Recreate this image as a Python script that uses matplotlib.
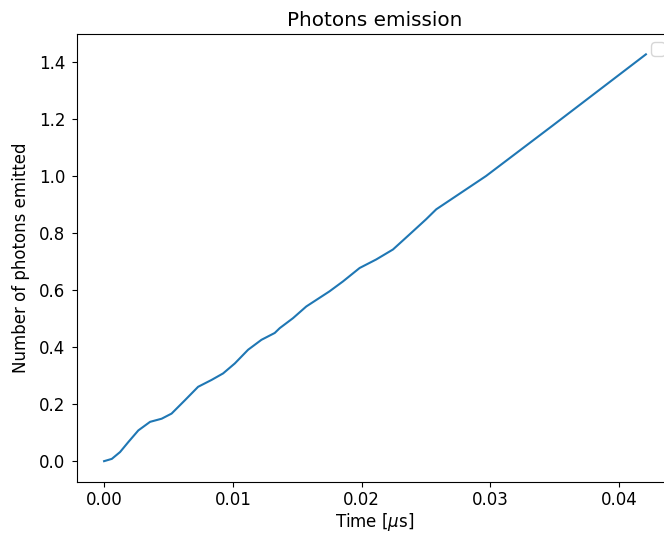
import matplotlib
matplotlib.use("Agg")
import matplotlib.pyplot as plt

time_us = [0.0, 0.0006, 0.00124, 0.00188, 0.00266, 0.00357, 0.00447, 0.00524,
           0.00628, 0.0073, 0.00834, 0.00924, 0.01015, 0.01118, 0.01222, 0.01325,
           0.01364, 0.01467, 0.0157, 0.0175, 0.01855, 0.01984, 0.02113, 0.02243,
           0.02372, 0.025, 0.02579, 0.02966, 0.03483, 0.04207]
photons = [0.0, 0.008, 0.032, 0.067, 0.108, 0.138, 0.149, 0.167,
           0.214, 0.261, 0.285, 0.308, 0.343, 0.391, 0.426, 0.450,
           0.467, 0.502, 0.543, 0.596, 0.631, 0.678, 0.708, 0.743,
           0.796, 0.849, 0.884, 1.001, 1.178, 1.428]

plt.rcParams["font.size"] = 12
DPI = 100
fig = plt.figure(figsize=(664 / DPI, 533 / DPI), dpi=DPI)
ax = fig.add_axes([77/664, 1 - 481.5/533, (673 - 77)/664, (481.5 - 34)/533])
ax.plot(time_us, photons, color="#1f77b4", linewidth=1.5)
ax.set_title("Photons emission")
ax.set_xlabel(r"Time [$\mu$s]", labelpad=1.5)
ax.set_ylabel("Number of photons emitted", labelpad=6.5)
ax.tick_params(axis="y", pad=5)
ax.legend(handles=[], loc="upper right")
fig.savefig("out.png", dpi=DPI)
